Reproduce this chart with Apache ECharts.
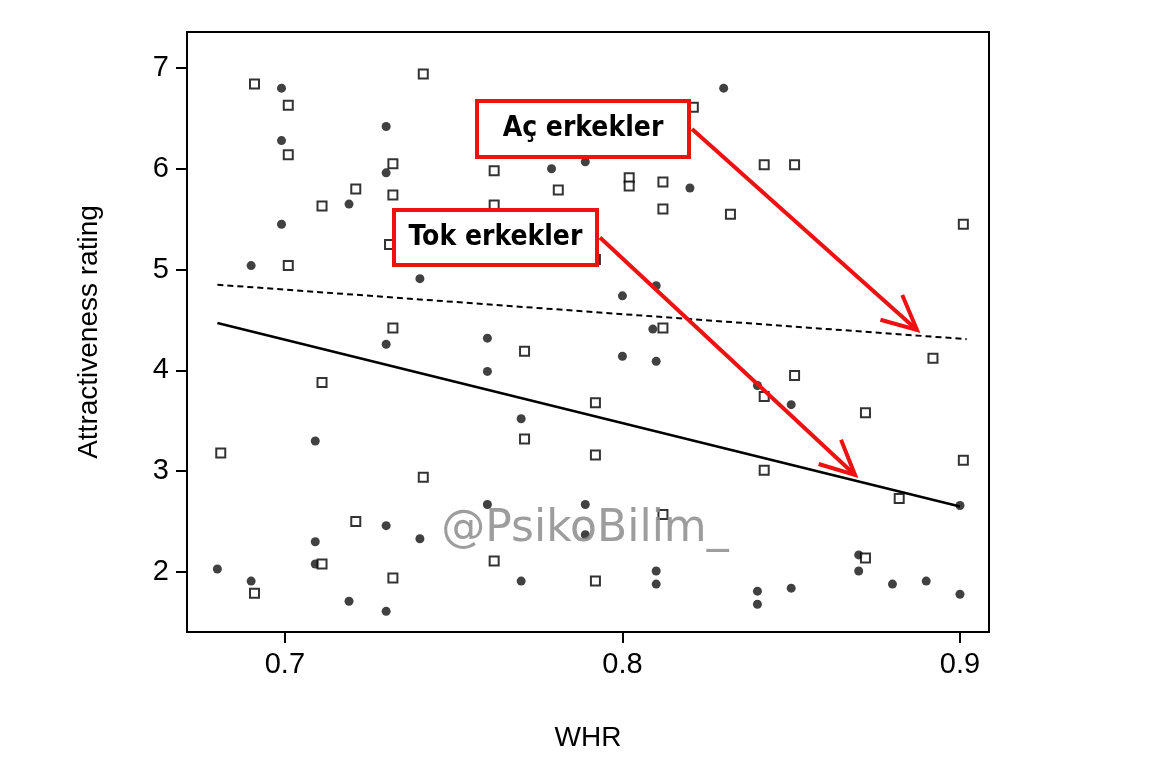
<!DOCTYPE html>
<html><head><meta charset="utf-8">
<script src="https://cdn.jsdelivr.net/npm/echarts@6/dist/echarts.min.js"></script>
<style>html,body{margin:0;background:#fff}#c{width:1151px;height:773px}</style>
</head><body><div id="c"></div>
<script>
// dolu noktalar (tok) ve boş kareler (aç)
var filledPts=[[0.699,6.80],[0.699,6.28],[0.699,5.45],[0.69,5.04],[0.719,5.65],[0.73,6.42],[0.73,5.96],[0.74,4.91],
 [0.779,6.0],[0.789,6.07],[0.83,6.80],[0.82,5.81],[0.81,4.84],[0.80,4.74],[0.809,4.41],
 [0.73,4.26],[0.76,4.32],[0.76,3.99],[0.77,3.52],[0.709,3.30],[0.76,2.67],[0.73,2.46],[0.74,2.33],[0.709,2.30],
 [0.709,2.08],[0.68,2.03],[0.69,1.91],[0.719,1.71],[0.73,1.61],[0.77,1.91],
 [0.80,4.14],[0.81,4.09],[0.84,3.85],[0.85,3.66],[0.90,2.66],[0.789,2.67],[0.789,2.37],[0.81,2.01],[0.81,1.88],
 [0.84,1.81],[0.84,1.68],[0.85,1.84],[0.87,2.17],[0.87,2.01],[0.88,1.88],[0.89,1.91],[0.90,1.78]];
var openPts=[[0.691,6.84],[0.701,6.63],[0.701,6.14],[0.741,6.94],[0.732,6.05],[0.721,5.80],[0.732,5.74],[0.711,5.63],
 [0.762,5.98],[0.781,5.79],[0.762,5.64],[0.731,5.25],[0.701,5.04],[0.732,4.42],
 [0.821,6.61],[0.802,5.91],[0.802,5.83],[0.812,5.87],[0.812,5.60],[0.842,6.04],[0.851,6.04],[0.832,5.55],[0.901,5.45],
 [0.792,5.10],[0.812,4.42],[0.771,4.19],[0.711,3.88],[0.771,3.32],[0.681,3.18],[0.741,2.94],[0.721,2.50],[0.711,2.08],
 [0.732,1.94],[0.691,1.79],[0.762,2.11],[0.892,4.12],[0.851,3.95],[0.842,3.74],[0.792,3.68],[0.872,3.58],[0.792,3.16],
 [0.842,3.01],[0.901,3.11],[0.882,2.73],[0.812,2.57],[0.872,2.14],[0.792,1.91]];
var tokLine=[[0.68,4.47],[0.90,2.65]];
var acLine=[[0.68,4.85],[0.902,4.31]];
var xTicks=[0.7,0.8,0.9];
var yTicks=[2,3,4,5,6,7];

var myChart=echarts.init(document.getElementById('c'));
var font="'Liberation Sans',Arial,sans-serif";
var red='#ee1111';
function arrowHead(x1,y1,x2,y2){
	var a=Math.atan2(y2-y1,x2-x1),L=38,s=0.45;
	return [[x2-L*Math.cos(a-s),y2-L*Math.sin(a-s)],[x2,y2],[x2-L*Math.cos(a+s),y2-L*Math.sin(a+s)]];
}
function label(x,y,w,h,txt,ax,ay){
	return [
		{type:'rect',shape:{x:x,y:y,width:w,height:h},style:{fill:'#fff',stroke:red,lineWidth:4},z:10},
		{type:'text',x:x+w/2,y:y+h/2,style:{text:txt,fill:'#000',font:"bold 28px 'DejaVu Sans Condensed','DejaVu Sans',sans-serif",align:'center',verticalAlign:'middle'},z:11},
		{type:'line',shape:{x1:x+w+3,y1:y+h/2,x2:ax,y2:ay},style:{stroke:red,lineWidth:4},z:10},
		{type:'polyline',shape:{points:arrowHead(x+w,y+h/2,ax,ay)},style:{stroke:red,lineWidth:4,fill:null},z:10}
	];
}
var option={
	animation:false,
	grid:{left:187,top:32,right:162,bottom:141,show:true,borderColor:'#000',borderWidth:2},
	xAxis:{type:'value',min:0.671,max:0.9086,interval:0.1,
		name:'WHR',nameLocation:'middle',nameGap:92,nameTextStyle:{fontFamily:font,fontSize:28,color:'#000'},
		axisLine:{show:false},splitLine:{show:false},
		axisTick:{show:true,length:11,lineStyle:{color:'#000',width:2},customValues:xTicks},
		axisLabel:{fontFamily:font,fontSize:29,color:'#000',margin:18,customValues:xTicks,formatter:function(v){return v.toFixed(1);}}},
	yAxis:{type:'value',min:1.405,max:7.357,
		name:'Attractiveness rating',nameLocation:'middle',nameGap:84,nameTextStyle:{fontFamily:font,fontSize:28,color:'#000'},
		axisLine:{show:false},splitLine:{show:false},
		axisTick:{show:true,length:11,lineStyle:{color:'#000',width:2},customValues:yTicks},
		axisLabel:{fontFamily:font,fontSize:29,color:'#000',margin:18,customValues:yTicks}},
	series:[
		{type:'scatter',data:filledPts,symbol:'circle',symbolSize:9,itemStyle:{color:'#111'}},
		{type:'scatter',data:openPts,symbol:'rect',symbolSize:9,itemStyle:{color:'#fff',borderColor:'#000',borderWidth:2}},
		{type:'line',data:tokLine,symbol:'none',lineStyle:{color:'#000',width:2.5}},
		{type:'line',data:acLine,symbol:'none',lineStyle:{color:'#000',width:2,type:[6,4]}}
	],
	graphic:[{type:'text',x:585,y:530,style:{text:'@PsikoBilim_',fill:'rgba(140,140,140,0.85)',font:"44px 'DejaVu Sans',sans-serif",align:'center',verticalAlign:'middle'},z:9}]
		.concat(label(477,101,212,56,'Aç erkekler',917,330))
		.concat(label(394,210,203,55,'Tok erkekler',855,475))
};
myChart.setOption(option);
</script></body></html>
